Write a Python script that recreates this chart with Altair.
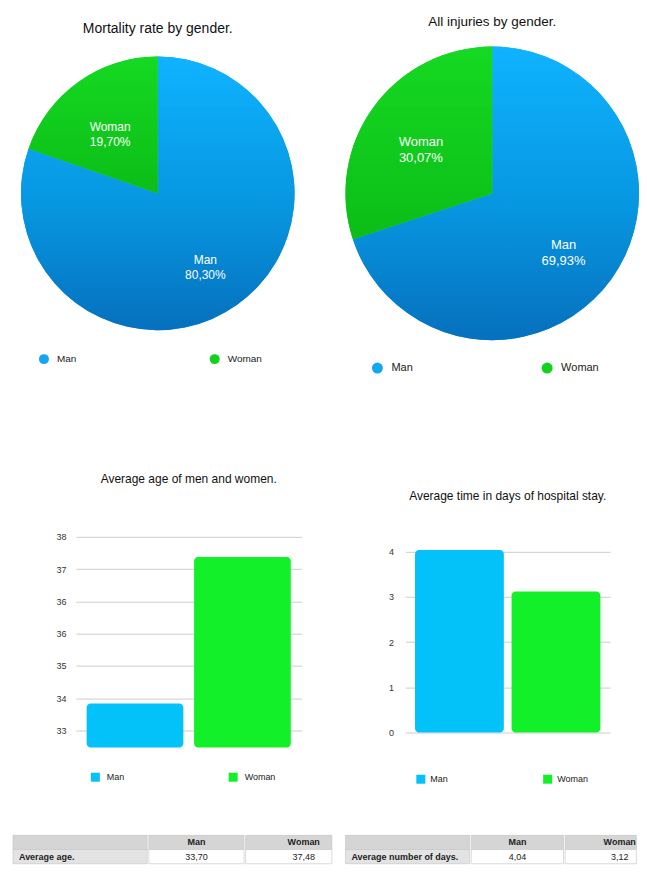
import altair as alt
import pandas as pd

# ---------------- data ----------------
GENDERS = ["Man", "Woman"]
MORTALITY = [80.30, 19.70]
INJURIES = [69.93, 30.07]
AVG_AGE = [33.70, 37.48]
AVG_DAYS = [4.04, 3.12]
AGE_TICKS = [33.0, 33.8333, 34.6667, 35.5, 36.3333, 37.1667, 38.0]
DAY_TICKS = [0, 1, 2, 3, 4]
TABLE_HEADERS = ["", "Man", "Woman"]
AGE_ROW_LABEL = "Average age."
DAYS_ROW_LABEL = "Average number of days."

TITLES = [
    "Mortality rate by gender.",
    "All injuries by gender.",
    "Average age of men and women.",
    "Average time in days of hospital stay.",
]

FONT = "Liberation Sans"
PIE_BLUE = "#12a6f4"
PIE_GREEN = "#12d21f"
BAR_BLUE = "#03c2fa"
BAR_GREEN = "#12f02a"

BLUE_GRAD = {"gradient": "linear", "x1": 0, "y1": 0, "x2": 0, "y2": 1,
             "stops": [{"offset": 0, "color": "#0fb3ff"},
                       {"offset": 0.55, "color": "#0796e0"},
                       {"offset": 1, "color": "#0670bd"}]}
GREEN_GRAD = {"gradient": "linear", "x1": 0, "y1": 0, "x2": 0, "y2": 1,
              "stops": [{"offset": 0, "color": "#15d922"},
                        {"offset": 1, "color": "#0cbd17"}]}


def fmt(v):
    return f"{v:.2f}".replace(".", ",")


SPACER_DATA = pd.DataFrame({"s": [0]})


def spacer(w, h):
    return (alt.Chart(SPACER_DATA).mark_point(opacity=0, size=1)
            .encode(x=alt.value(w / 2), y=alt.value(h / 2))
            .properties(width=w, height=h))


def independent(c):
    return c.resolve_scale(
        color="independent", fill="independent", x="independent",
        y="independent", theta="independent",
    ).resolve_legend(color="independent", fill="independent")


def pie(values, title, w, h, radius, title_size, title_offset, label_size,
        leg_x, leg_y, sym_size, leg_font, col_pad, label_offset):
    df = pd.DataFrame({"gender": GENDERS, "value": values, "order": [0, 1]})
    df["label"] = [f"{g}\n{fmt(v)}%" for g, v in zip(GENDERS, values)]
    base = alt.Chart(df).encode(
        theta=alt.Theta("value:Q", stack=True),
        order=alt.Order("order:Q"),
        detail="gender:N",
    )
    arcs = base.mark_arc(outerRadius=radius).encode(
        color=alt.Color(
            "gender:N",
            scale=alt.Scale(domain=GENDERS, range=[PIE_BLUE, PIE_GREEN]),
            legend=alt.Legend(
                title=None, orient="none", legendX=leg_x, legendY=leg_y,
                direction="horizontal", symbolType="circle", symbolSize=sym_size,
                symbolStrokeWidth=0, labelFontSize=leg_font, labelFont=FONT,
                labelColor="#222222", columnPadding=col_pad,
                labelOffset=label_offset, padding=0,
            ),
        )
    )
    shade = base.mark_arc(outerRadius=radius).encode(
        fill=alt.condition("datum.gender == 'Man'",
                           alt.value(BLUE_GRAD), alt.value(GREEN_GRAD))
    )
    text = base.mark_text(
        radius=0.6 * radius, lineBreak="\n", fontSize=label_size, font=FONT,
        color="white", lineHeight=label_size + 3,
    ).encode(text="label:N")
    return alt.layer(arcs, shade, text).properties(
        width=w, height=h,
        title=alt.TitleParams(title, fontSize=title_size, offset=title_offset,
                              font=FONT, fontWeight="normal", anchor="middle",
                              color="#111111"),
    )


def bar(values, title, w, h, domain, base_value, ticks, title_offset,
        leg_x, leg_y, col_pad, label_offset, label_pad, pad_inner, pad_outer):
    df = pd.DataFrame({"gender": GENDERS, "value": values})
    return alt.Chart(df).mark_bar(cornerRadius=4).encode(
        x=alt.X("gender:N", axis=None, sort=GENDERS,
                scale=alt.Scale(paddingInner=pad_inner, paddingOuter=pad_outer)),
        y=alt.Y("value:Q",
                scale=alt.Scale(domain=domain, nice=False, zero=False),
                axis=alt.Axis(values=ticks, format=".0f", title=None,
                              domain=False, ticks=False, labelPadding=label_pad,
                              gridColor="#cdcdcd", gridWidth=1,
                              labelFontSize=9, labelFont=FONT,
                              labelColor="#333333")),
        y2=alt.Y2(datum=base_value),
        color=alt.Color(
            "gender:N",
            scale=alt.Scale(domain=GENDERS, range=[BAR_BLUE, BAR_GREEN]),
            legend=alt.Legend(
                title=None, orient="none", legendX=leg_x, legendY=leg_y,
                direction="horizontal", symbolType="square", symbolSize=81,
                symbolStrokeWidth=0, labelFontSize=9, labelFont=FONT,
                labelColor="#222222", columnPadding=col_pad,
                labelOffset=label_offset, padding=0,
            ),
        ),
    ).properties(
        width=w, height=h,
        title=alt.TitleParams(title, fontSize=12, offset=title_offset,
                              font=FONT, fontWeight="normal", anchor="middle",
                              color="#111111"),
    )


ROW_H = 14.5
STROKE_W = 0.6


def table_col(header, value, kind, w, align, dx, value_bold):
    df = pd.DataFrame({"row": ["h", "d"], "text": [header, value],
                       "kind": ["head", kind]})
    inner_w = w - STROKE_W
    base = alt.Chart(df).encode(
        y=alt.Y("row:N", sort=["h", "d"], axis=None,
                scale=alt.Scale(paddingInner=0, paddingOuter=0)))
    rect = base.mark_rect(stroke="#c2c2c2", strokeWidth=STROKE_W).encode(
        fill=alt.Fill("kind:N",
                      scale=alt.Scale(domain=["head", "label", "value"],
                                      range=["#d5d5d5", "#e3e3e3", "#ffffff"]),
                      legend=None))
    xpos = 6 if align == "left" else inner_w / 2 + dx
    head_txt = base.transform_filter("datum.row == 'h'").mark_text(
        fontSize=9, font=FONT, fontWeight="bold", color="#222222",
        align=align).encode(text="text:N", x=alt.value(xpos))
    val_txt = base.transform_filter("datum.row == 'd'").mark_text(
        fontSize=9, font=FONT, fontWeight="bold" if value_bold else "normal",
        color="#222222", align=align).encode(text="text:N", x=alt.value(xpos))
    return alt.layer(rect, head_txt, val_txt).properties(
        width=inner_w, height=2 * ROW_H - STROKE_W)


# pies: views 370 tall so that their centres sit at the reference height
pie1 = pie(MORTALITY, TITLES[0], 290, 370, 137, 14, -27, 12,
           26, 346, 100, 10, 133, 8)
pie2 = pie(INJURIES, TITLES[1], 294, 370, 147, 13.5, -19.5, 13,
           26.5, 354.5, 121, 11, 129, 8.5)

# bars: plot areas extended above/below so titles and legends sit inside
bar1 = bar(AVG_AGE, TITLES[2], 226, 449, [30.423, 41.995], 32.56, AGE_TICKS,
           -104, 15, 391, 104, 7, 10, 0.1, 0.1)
bar2 = bar(AVG_DAYS, TITLES[3], 205, 449, [-2.166, 7.757], 0, DAY_TICKS,
           -121, 11, 393, 95, 5, 12, 0.08, 0.1)

t1 = [
    table_col(TABLE_HEADERS[0], AGE_ROW_LABEL, "label", 135, "left", 0, True),
    table_col(TABLE_HEADERS[1], fmt(AVG_AGE[0]), "value", 96, "center", 0, False),
    table_col(TABLE_HEADERS[2], fmt(AVG_AGE[1]), "value", 87, "center", 15, False),
]
t2 = [
    table_col(TABLE_HEADERS[0], DAYS_ROW_LABEL, "label", 125, "left", 0, True),
    table_col(TABLE_HEADERS[1], fmt(AVG_DAYS[0]), "value", 93, "center", 0, False),
    table_col(TABLE_HEADERS[2], fmt(AVG_DAYS[1]), "value", 72, "center", 19, False),
]

row0 = independent(alt.hconcat(pie1, pie2, spacing=43))
row1 = independent(alt.hconcat(spacer(42, 1), bar1, spacer(86, 1), bar2, spacing=0))
row2 = independent(alt.hconcat(*t1, spacer(12, 1), *t2, spacing=0))

chart = independent(alt.vconcat(row0, row1, row2, spacing=4)).properties(
    padding={"left": 4, "top": 0, "right": 0, "bottom": 0},
    background="white",
).configure(font=FONT).configure_view(strokeWidth=0, stroke="transparent")

chart.save("out.html", embed_options={"renderer": "svg", "actions": False})
